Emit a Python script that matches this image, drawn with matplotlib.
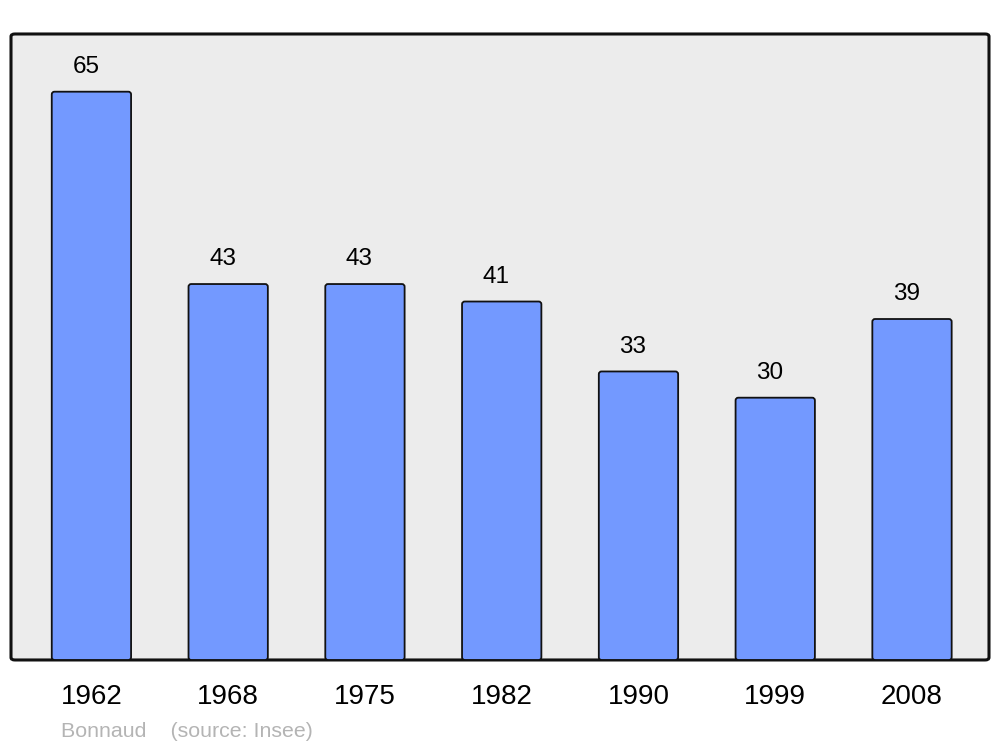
import matplotlib.pyplot as plt
from matplotlib.patches import FancyBboxPatch

plt.rcParams['font.family'] = ['Liberation Sans', 'DejaVu Sans']

years = ['1962', '1968', '1975', '1982', '1990', '1999', '2008']
population = [65, 43, 43, 41, 33, 30, 39]

fig = plt.figure(figsize=(10, 7.47), dpi=100)
ax = fig.add_axes([0.011, 0.1165, 0.978, 0.838])
ax.set_facecolor('none')

# rounded grey frame behind the bars
frame = FancyBboxPatch((0, 0), 1, 1, boxstyle='round,pad=0,rounding_size=0.004',
                       transform=ax.transAxes, facecolor='#ececec',
                       edgecolor='#111111', linewidth=2.2, zorder=0, clip_on=False)
ax.add_patch(frame)

x = list(range(len(years)))
bars = ax.bar(x, population, width=0.58, color='#7399ff', edgecolor='#111111',
              linewidth=1.3, zorder=2)
# swap the plain rectangles for slightly rounded ones
for b in bars:
    b.set_visible(False)
    rb = FancyBboxPatch((b.get_x(), b.get_y()), b.get_width(), b.get_height(),
                        boxstyle='round,pad=0,rounding_size=0.02',
                        mutation_aspect=15.6, facecolor='#7399ff',
                        edgecolor='#111111', linewidth=1.3, zorder=2)
    ax.add_patch(rb)

for xi, v in zip(x, population):
    ax.annotate(str(v), (xi, v), xytext=(-4, 13.5), textcoords='offset points',
                ha='center', va='baseline', fontsize=17.5)

ax.set_xlim(-0.588, 6.563)
ax.set_ylim(0, 71.6)
ax.set_xticks(x)
ax.set_xticklabels(years, fontsize=20)
ax.tick_params(axis='x', length=0, pad=17.5)
ax.set_yticks([])
for s in ax.spines.values():
    s.set_visible(False)

fig.text(0.061, 0.0134, 'Bonnaud    (source: Insee)', color='#b4b4b4',
         fontsize=15.4, va='baseline')

fig.savefig('out.png', dpi=100)
